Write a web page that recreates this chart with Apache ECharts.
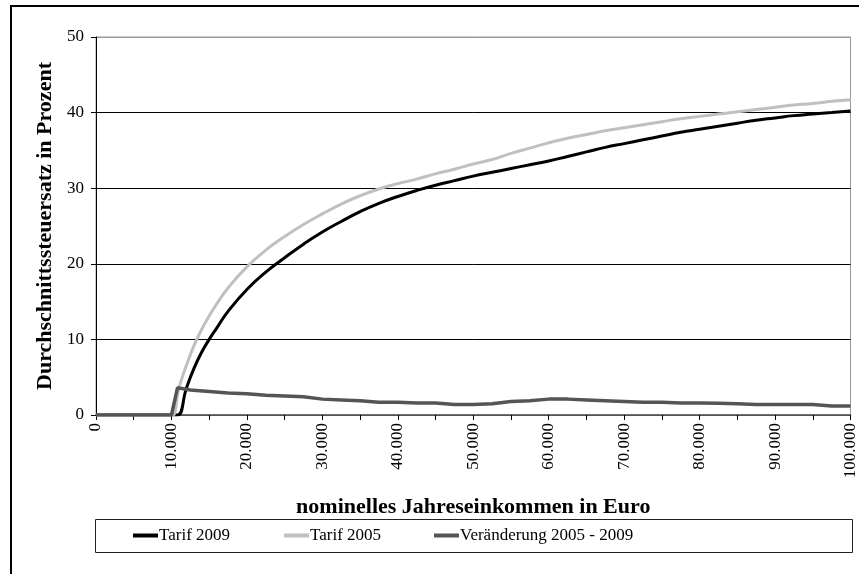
<!DOCTYPE html>
<html>
<head>
<meta charset="utf-8">
<script src="https://cdn.jsdelivr.net/npm/echarts@6/dist/echarts.min.js"></script>
<style>
  html, body { margin: 0; padding: 0; background: #fff; }
  #main { width: 859px; height: 574px; }
</style>
</head>
<body>
<div id="main"></div>
<script>
// Einkommen (x) und Durchschnittssteuersätze in Prozent
var einkommen2009 = [0, 5000, 10000, 10800, 12000, 13000, 14000, 15000, 16000, 17500, 20000, 22500, 25000, 27500, 30000, 32500, 35000, 37500, 40000, 42500, 45000, 47500, 50000, 52500, 55000, 57500, 60000, 62500, 65000, 67500, 70000, 72500, 75000, 77500, 80000, 82500, 85000, 87500, 90000, 92500, 95000, 97500, 100000];
var tarif2009 = [0, 0, 0, 0, 3.6, 6.2, 8.3, 10.0, 11.5, 13.7, 16.6, 18.9, 20.8, 22.6, 24.2, 25.6, 26.9, 28.0, 28.9, 29.7, 30.4, 31.0, 31.6, 32.1, 32.6, 33.1, 33.6, 34.2, 34.8, 35.4, 35.9, 36.4, 36.9, 37.4, 37.8, 38.2, 38.6, 39.0, 39.3, 39.6, 39.8, 40.0, 40.2];

var einkommen2005 = [0, 5000, 10000, 10200, 11000, 12000, 13000, 14000, 15000, 16000, 17500, 20000, 22500, 25000, 27500, 30000, 32500, 35000, 37500, 40000, 42500, 45000, 47500, 50000, 52500, 55000, 57500, 60000, 62500, 65000, 67500, 70000, 72500, 75000, 77500, 80000, 82500, 85000, 87500, 90000, 92500, 95000, 97500, 100000];
var tarif2005 = [0, 0, 0, 0, 3.6, 6.6, 9.2, 11.3, 13.1, 14.7, 16.8, 19.6, 21.8, 23.6, 25.2, 26.6, 27.9, 29.0, 29.9, 30.6, 31.2, 31.9, 32.5, 33.2, 33.8, 34.6, 35.3, 36.0, 36.6, 37.1, 37.6, 38.0, 38.4, 38.8, 39.2, 39.5, 39.8, 40.1, 40.4, 40.7, 41.0, 41.2, 41.5, 41.7];

var einkommenDiff = [0, 5000, 10000, 10800, 12500, 15000, 17500, 20000, 22500, 25000, 27500, 30000, 32500, 35000, 37500, 40000, 42500, 45000, 47500, 50000, 52500, 55000, 57500, 60000, 62500, 65000, 67500, 70000, 72500, 75000, 77500, 80000, 82500, 85000, 87500, 90000, 92500, 95000, 97500, 100000];
var veraenderung = [0, 0, 0, 3.6, 3.3, 3.1, 2.9, 2.8, 2.6, 2.5, 2.4, 2.1, 2.0, 1.9, 1.7, 1.7, 1.6, 1.6, 1.4, 1.4, 1.5, 1.8, 1.9, 2.1, 2.1, 2.0, 1.9, 1.8, 1.7, 1.7, 1.6, 1.6, 1.55, 1.5, 1.4, 1.4, 1.4, 1.4, 1.2, 1.2];

var serienNamen = ['Tarif 2009', 'Tarif 2005', 'Veränderung 2005 - 2009'];

function paare(xs, ys) {
  var out = [];
  for (var i = 0; i < xs.length; i++) out.push([xs[i], ys[i]]);
  return out;
}

var schrift = 'Liberation Serif';
var myChart = echarts.init(document.getElementById('main'));

var option = {
  backgroundColor: '#fff',
  animation: false,
  textStyle: { fontFamily: schrift, color: '#000' },
  grid: {
    left: 96, right: 5, top: 37, bottom: 159,
    show: true, borderColor: '#999', borderWidth: 1
  },
  legend: [
    { data: [serienNamen[0]], left: 133, top: 527 },
    { data: [serienNamen[1]], left: 284, top: 527 },
    { data: [serienNamen[2]], left: 434, top: 527 }
  ].map(function (l) {
    l.icon = 'rect'; l.itemWidth = 25; l.itemHeight = 4; l.itemGap = 0; l.padding = 0;
    l.textStyle = { fontFamily: schrift, fontSize: 17, color: '#000', padding: [0, 0, 0, -4] };
    return l;
  }),
  xAxis: {
    type: 'value', min: 0, max: 100000, interval: 5000,
    name: 'nominelles Jahreseinkommen in Euro',
    nameLocation: 'middle', nameGap: 81,
    nameTextStyle: { fontFamily: schrift, fontSize: 22, fontWeight: 'bold', color: '#000' },
    axisLine: { show: true, lineStyle: { color: '#555', width: 1.5 } },
    axisTick: { show: true, inside: false, length: 5, lineStyle: { color: '#000' } },
    splitLine: { show: false },
    axisLabel: {
      rotate: 90, fontSize: 17, color: '#000', margin: 8, showMaxLabel: true,
      formatter: function (v) {
        if (v % 10000 !== 0) return '';
        return v === 0 ? '0' : (v / 1000) + '.000';
      }
    }
  },
  yAxis: {
    type: 'value', min: 0, max: 50, interval: 10,
    name: 'Durchschnittssteuersatz in Prozent',
    nameLocation: 'middle', nameGap: 40,
    nameTextStyle: { fontFamily: schrift, fontSize: 22, fontWeight: 'bold', color: '#000' },
    axisLine: { show: true, lineStyle: { color: '#000' } },
    axisTick: { show: true, length: 5, lineStyle: { color: '#000' } },
    axisLabel: { fontSize: 17, color: '#000', margin: 12 },
    splitLine: { show: true, lineStyle: { color: ['#555', '#000', '#000', '#000', '#000', '#999'], width: 1 } }
  },
  series: [
    {
      name: serienNamen[0], type: 'line', symbol: 'none', smooth: 0.5,
      lineStyle: { color: '#000', width: 3 }, itemStyle: { color: '#000' },
      data: paare(einkommen2009, tarif2009)
    },
    {
      name: serienNamen[1], type: 'line', symbol: 'none', smooth: 0.5,
      lineStyle: { color: '#c0c0c0', width: 3 }, itemStyle: { color: '#c0c0c0' },
      data: paare(einkommen2005, tarif2005)
    },
    {
      name: serienNamen[2], type: 'line', symbol: 'none',
      lineStyle: { color: '#555', width: 3.5 }, itemStyle: { color: '#555' },
      data: paare(einkommenDiff, veraenderung)
    }
  ],
  graphic: [
    {
      type: 'rect', silent: true, z: -1,
      shape: { x: 11, y: 6, width: 900, height: 620 },
      style: { fill: null, stroke: '#000', lineWidth: 2 }
    },
    {
      type: 'rect', silent: true,
      shape: { x: 95.5, y: 519.5, width: 757, height: 33 },
      style: { fill: null, stroke: '#222', lineWidth: 1 }
    }
  ]
};

myChart.setOption(option);
</script>
</body>
</html>
